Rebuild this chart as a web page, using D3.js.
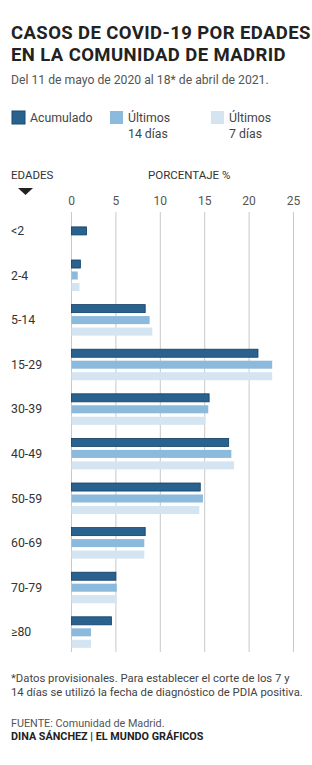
<!DOCTYPE html>
<html lang="es">
<head>
<meta charset="utf-8">
<title>Casos de COVID-19 por edades</title>
<script src="https://cdn.jsdelivr.net/npm/d3@7"></script>
<style>
  body { margin: 0; background: #fff; }
  svg { display: block; font-family: Roboto, "Noto Sans", sans-serif; }
</style>
</head>
<body>
<div id="chart"></div>
<script>
// age groups and the three series (percent of cases)
var ages = ["<2", "2-4", "5-14", "15-29", "30-39", "40-49", "50-59", "60-69", "70-79", "≥80"];
var acumulado = [1.7, 1.0, 8.3, 21.0, 15.5, 17.7, 14.5, 8.3, 5.0, 4.5];
var ultimos14 = [null, 0.7, 8.8, 22.6, 15.4, 18.0, 14.8, 8.2, 5.1, 2.2];
var ultimos7  = [null, 0.9, 9.1, 22.6, 15.1, 18.3, 14.4, 8.2, 5.1, 2.2];
var seriesNames = ["Acumulado", "Últimos 14 días", "Últimos 7 días"];
var xTicks = [0, 5, 10, 15, 20, 25];

var width = 312, height = 765;
var colours = ["#2a628f", "#8cbadc", "#d4e4f1"];
var seriesValues = [acumulado, ultimos14, ultimos7];

var svg = d3.select("#chart").append("svg")
    .attr("width", width)
    .attr("height", height);

svg.append("rect").attr("width", width).attr("height", height).attr("fill", "#fff");

// title and subtitle
svg.append("text").attr("x", 11).attr("y", 39)
    .attr("font-size", 18.5).attr("font-weight", 700).attr("fill", "#222")
    .attr("letter-spacing", 0.4)
    .text("CASOS DE COVID-19 POR EDADES");
svg.append("text").attr("x", 11).attr("y", 61)
    .attr("font-size", 18.5).attr("font-weight", 700).attr("fill", "#222")
    .attr("letter-spacing", 0.4)
    .text("EN LA COMUNIDAD DE MADRID");
svg.append("text").attr("x", 11).attr("y", 84)
    .attr("font-size", 12.2).attr("fill", "#555")
    .text("Del 11 de mayo de 2020 al 18* de abril de 2021.");

// legend
var legendX = [12, 110, 211];
var legendLines = [["Acumulado"], ["Últimos", "14 días"], ["Últimos", "7 días"]];
var legend = svg.selectAll(".legend")
    .data(seriesNames)
    .enter().append("g")
    .attr("class", "legend")
    .attr("transform", function(d, i) { return "translate(" + legendX[i] + ",111)"; });
legend.append("rect")
    .attr("width", 13).attr("height", 13)
    .attr("fill", function(d, i) { return colours[i]; })
    .attr("stroke", function(d, i) { return i == 0 ? "#164a73" : "none"; })
    .attr("stroke-width", 1);
legend.each(function(d, i) {
    var g = d3.select(this);
    legendLines[i].forEach(function(line, j) {
        g.append("text").attr("x", 18).attr("y", 11 + j * 16)
            .attr("font-size", 12.3).attr("fill", "#444")
            .text(line);
    });
});

// axis headers
svg.append("text").attr("x", 11).attr("y", 179)
    .attr("font-size", 11.5).attr("fill", "#333").text("EDADES");
svg.append("text").attr("x", 148).attr("y", 179)
    .attr("font-size", 11.5).attr("fill", "#333").text("PORCENTAJE %");
svg.append("path").attr("d", "M18,188 L33,188 L25.5,195 Z").attr("fill", "#222");

// scales
var xScale = d3.scaleLinear().domain([0, 25]).range([71.5, 293.5]);
var yScale = d3.scaleBand().domain(ages).range([215.4, 215.4 + 44.6 * ages.length]);
var inner = d3.scaleBand().domain(seriesNames).range([0, 31]).paddingInner(0.3);

// grid lines
svg.selectAll(".grid")
    .data(xTicks)
    .enter().append("line")
    .attr("x1", function(d) { return xScale(d); })
    .attr("x2", function(d) { return xScale(d); })
    .attr("y1", 212).attr("y2", 652)
    .attr("stroke", "#c9c9c9").attr("stroke-width", 1);

// x axis labels
svg.selectAll(".tick-label")
    .data(xTicks)
    .enter().append("text")
    .attr("x", function(d) { return xScale(d); })
    .attr("y", 205)
    .attr("text-anchor", "middle")
    .attr("font-size", 12).attr("fill", "#555")
    .text(function(d) { return d; });

// bars
var bars = [];
ages.forEach(function(age, i) {
    var present = seriesValues.filter(function(s) { return s[i] != null; }).length;
    seriesValues.forEach(function(s, j) {
        if (s[i] == null) return;
        // a group with a single value sits in the middle slot
        var slot = present == 1 ? seriesNames[1] : seriesNames[j];
        bars.push({ age: age, value: s[i], series: j, slot: slot });
    });
});

svg.selectAll(".bar")
    .data(bars)
    .enter().append("rect")
    .attr("x", xScale(0))
    .attr("y", function(d) { return yScale(d.age) + inner(d.slot); })
    .attr("width", function(d) { return xScale(d.value) - xScale(0); })
    .attr("height", inner.bandwidth())
    .attr("fill", function(d) { return colours[d.series]; })
    .attr("stroke", function(d) { return d.series == 0 ? "#123f66" : "none"; })
    .attr("stroke-width", 0.8);

// age labels
svg.selectAll(".age-label")
    .data(ages)
    .enter().append("text")
    .attr("x", 11)
    .attr("y", function(d) { return yScale(d) + inner(seriesNames[1]) + inner.bandwidth() / 2 + 4; })
    .attr("font-size", 12.3).attr("fill", "#333")
    .text(function(d) { return d; });

// notes
svg.append("text").attr("x", 11).attr("y", 682)
    .attr("font-size", 11.3).attr("fill", "#444")
    .text("*Datos provisionales. Para establecer el corte de los 7 y");
svg.append("text").attr("x", 11).attr("y", 696)
    .attr("font-size", 11.3).attr("fill", "#444")
    .text("14 días se utilizó la fecha de diagnóstico de PDIA positiva.");
svg.append("text").attr("x", 11).attr("y", 727)
    .attr("font-size", 10.8).attr("fill", "#555")
    .text("FUENTE: Comunidad de Madrid.");
svg.append("text").attr("x", 11).attr("y", 739.5)
    .attr("font-size", 10.8).attr("font-weight", 700).attr("fill", "#222")
    .text("DINA SÁNCHEZ | EL MUNDO GRÁFICOS");
</script>
</body>
</html>
